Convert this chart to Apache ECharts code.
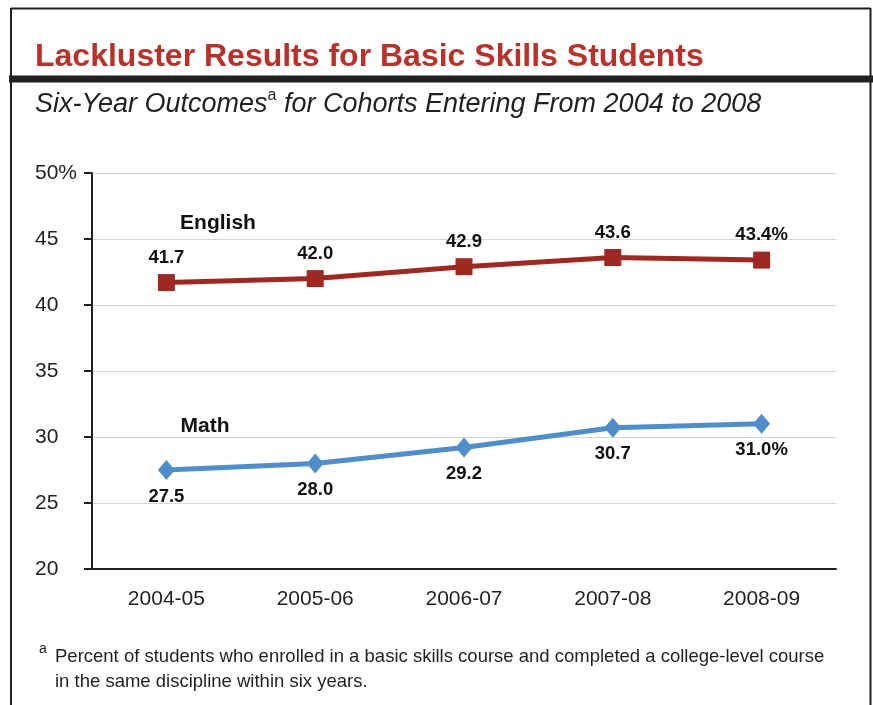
<!DOCTYPE html>
<html>
<head>
<meta charset="utf-8">
<script src="https://cdn.jsdelivr.net/npm/echarts@6/dist/echarts.min.js"></script>
<style>
html,body{margin:0;padding:0;background:#fff;}
#c{width:873px;height:705px;}
</style>
</head>
<body>
<div id="c"></div>
<script>
const categories = ['2004-05', '2005-06', '2006-07', '2007-08', '2008-09'];
const englishValues = [41.7, 42.0, 42.9, 43.6, 43.4];
const mathValues = [27.5, 28.0, 29.2, 30.7, 31.0];
const yTicks = [20, 25, 30, 35, 40, 45, 50];

const FONT = 'Liberation Sans, Arial, Helvetica, sans-serif';
const INK = '#231f20';
const RED = '#9e2922';
const BLUE = '#4f8ecb';
const TITLE_RED = '#b7322b';

function lastPct(arr) {
  return function (p) {
    const s = p.value.toFixed(1);
    return p.dataIndex === arr.length - 1 ? s + '%' : s;
  };
}

const chart = echarts.init(document.getElementById('c'), null, {renderer: 'canvas'});
chart.setOption({
  backgroundColor: '#fff',
  animation: false,
  grid: {left: 92, right: 37, top: 173, bottom: 136},
  xAxis: {
    type: 'category',
    data: categories,
    boundaryGap: true,
    axisLine: {lineStyle: {color: INK, width: 2}},
    axisTick: {alignWithLabel: true, length: 9, lineStyle: {color: INK, width: 2}},
    axisLabel: {color: INK, fontFamily: FONT, fontSize: 21, margin: 20}
  },
  yAxis: {
    type: 'value',
    min: yTicks[0],
    max: yTicks[yTicks.length - 1],
    interval: 5,
    axisLine: {show: true, lineStyle: {color: INK, width: 2}},
    axisTick: {show: true, length: 8, lineStyle: {color: INK, width: 2}},
    splitLine: {lineStyle: {color: '#d6d6d6', width: 1}},
    axisLabel: {
      color: INK, fontFamily: FONT, fontSize: 21, align: 'left', margin: 57,
      formatter: function (v) { return v === yTicks[yTicks.length - 1] ? v + '%' : String(v); }
    }
  },
  series: [
    {
      name: 'English',
      type: 'line',
      data: englishValues,
      symbol: 'rect',
      symbolSize: 17,
      itemStyle: {color: RED},
      lineStyle: {color: RED, width: 5},
      label: {
        show: true, position: 'top', distance: 7,
        color: '#111', fontFamily: FONT, fontWeight: 'bold', fontSize: 18.5,
        formatter: lastPct(englishValues)
      },
      z: 3
    },
    {
      name: 'Math',
      type: 'line',
      data: mathValues,
      symbol: 'diamond',
      symbolSize: [17, 20],
      itemStyle: {color: BLUE},
      lineStyle: {color: BLUE, width: 5},
      label: {
        show: true, position: 'bottom', distance: 7,
        color: '#111', fontFamily: FONT, fontWeight: 'bold', fontSize: 18.5,
        formatter: lastPct(mathValues)
      },
      z: 3
    }
  ],
  graphic: [
    // frame
    {type: 'line', shape: {x1: 11, y1: 8.5, x2: 870.5, y2: 8.5}, style: {stroke: INK, lineWidth: 2}},
    {type: 'line', shape: {x1: 11, y1: 8, x2: 11, y2: 705}, style: {stroke: INK, lineWidth: 2}},
    {type: 'line', shape: {x1: 870.5, y1: 8, x2: 870.5, y2: 705}, style: {stroke: INK, lineWidth: 2}},
    // thick rule under title
    {type: 'rect', shape: {x: 9, y: 75.5, width: 864, height: 7}, style: {fill: INK}},
    // title
    {type: 'text', x: 35, y: 57, style: {
      text: 'Lackluster Results for Basic Skills Students',
      fill: TITLE_RED, font: 'bold 32px ' + FONT, textVerticalAlign: 'middle'
    }},
    // subtitle
    {type: 'text', x: 35, y: 88, style: {
      text: '{n|Six-Year Outcomes}{s|a}{n| for Cohorts Entering From 2004 to 2008}',
      fill: INK, font: 'italic 27px ' + FONT,
      rich: {
        n: {fontSize: 27, fontStyle: 'italic', fontFamily: FONT, lineHeight: 30, verticalAlign: 'bottom'},
        s: {fontSize: 16, fontStyle: 'normal', fontFamily: FONT, lineHeight: 30, verticalAlign: 'top'}
      }
    }},
    // series name annotations
    {type: 'text', x: 218, y: 223, style: {
      text: 'English', fill: '#111', font: 'bold 21px ' + FONT,
      textAlign: 'center', textVerticalAlign: 'middle'
    }},
    {type: 'text', x: 205, y: 426, style: {
      text: 'Math', fill: '#111', font: 'bold 21px ' + FONT,
      textAlign: 'center', textVerticalAlign: 'middle'
    }},
    // footnote
    {type: 'text', x: 39, y: 649, style: {
      text: 'a', fill: INK, font: '14px ' + FONT, textVerticalAlign: 'middle'
    }},
    {type: 'text', x: 55, y: 644, style: {
      text: 'Percent of students who enrolled in a basic skills course and completed a college-level course\nin the same discipline within six years.',
      fill: INK, font: '18.5px ' + FONT, lineHeight: 25
    }}
  ]
});
</script>
</body>
</html>
